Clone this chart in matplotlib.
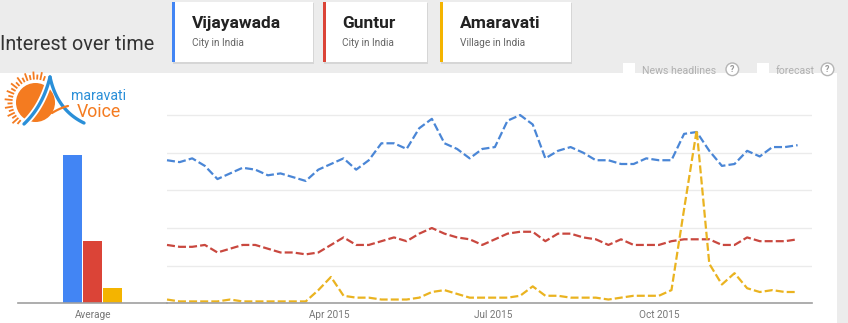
import matplotlib
matplotlib.use('Agg')
import matplotlib.pyplot as plt
import numpy as np
import pandas as pd
from matplotlib.patches import Rectangle, Circle

plt.rcParams['font.family'] = ['Roboto', 'DejaVu Sans']

# ---------------- data ----------------
series_names = ['Vijayawada', 'Guntur', 'Amaravati']
series_types = ['City in India', 'City in India', 'Village in India']
bar_colors = ['#4285f4', '#db4437', '#f4b400']
line_colors = ['#4a86d6', '#c9483f', '#eab320']

dates = pd.date_range('2015-01-01', periods=51, freq='7D')
vijayawada = [76, 75, 77, 73, 66, 69, 72, 71, 68, 69, 67, 65, 71, 74, 77, 71, 76,
              85, 85, 82, 93, 98, 85, 82, 77, 82, 83, 97, 100, 95, 77, 81, 83, 80,
              76, 76, 74, 74, 77, 76, 76, 90, 91, 81, 73, 74, 81, 78, 83, 83, 84]
guntur = [31, 30, 30, 31, 27, 29, 31, 31, 29, 27, 27, 26, 27, 31, 35, 31, 31,
          33, 35, 33, 37, 40, 37, 35, 34, 31, 34, 37, 38, 38, 33, 37, 37, 35,
          34, 31, 34, 31, 31, 31, 33, 34, 34, 34, 31, 31, 35, 33, 33, 33, 34]
amaravati = [2, 1, 1, 1, 1, 2, 1, 1, 1, 1, 1, 1, 7, 14, 4, 3, 3,
             2, 2, 2, 3, 6, 7, 5, 3, 3, 3, 3, 4, 9, 4, 4, 3, 3,
             3, 2, 3, 4, 4, 4, 7, 50, 92, 21, 10, 16, 8, 6, 7, 6, 6]
averages = [79, 33, 8]
tick_dates = ['2015-04-01', '2015-07-01', '2015-10-01']
tick_labels = ['Apr 2015', 'Jul 2015', 'Oct 2015']

# ---------------- figure ----------------
W, H = 848, 323
fig = plt.figure(figsize=(W / 100, H / 100), dpi=100, facecolor='#ececec')

bg = fig.add_axes([0, 0, 1, 1], zorder=0)
bg.set_xlim(0, W)
bg.set_ylim(H, 0)
bg.axis('off')


def fr(x0, y0, x1, y1):
    return [x0 / W, 1 - y1 / H, (x1 - x0) / W, (y1 - y0) / H]


# white chart area
bg.add_patch(Rectangle((0, 72.7), 837, H - 72.7, fc='white', ec='none'))

# title
bg.text(0.5, 50, 'Interest over time', fontsize=14.2, color='#333333', va='baseline')

# cards
cards = [(172, 313), (323, 427), (440, 571)]
for (x0, x1), name, typ, col in zip(cards, series_names, series_types, bar_colors):
    bg.add_patch(Rectangle((x0 + 0.5, 3), x1 - x0, 60.5, fc='#d6d6d6', ec='none'))
    bg.add_patch(Rectangle((x0, 2), x1 - x0, 60, fc='white', ec='none'))
    bg.add_patch(Rectangle((x0, 2), 3, 60, fc=col, ec='none'))
    bg.text(x0 + 19.5, 28.3, name, fontsize=12.5, fontweight='bold',
            color='#222222', va='baseline')
    bg.text(x0 + 19.5, 45.5, typ, fontsize=7.3, color='#666666', va='baseline')

# checkboxes
for bx, label, qx in [(623, 'News headlines', 732.3), (757, 'forecast', 827.5)]:
    bg.add_patch(Rectangle((bx, 63), 12, 12, fc='white', ec='none'))
    bg.text(bx + 18.5, 73.5, label, fontsize=7.6, color='#b0b0b0', va='baseline')
    bg.add_patch(Circle((qx, 69.3), 6.3, fc='white', ec='#b5b5b5', lw=1.0))
    bg.text(qx, 69.8, '?', fontsize=6.5, color='#999999', ha='center', va='center',
            fontweight='bold')

# logo (approximation)
sun_c = np.array([35.5, 102.5])
bg.add_patch(Circle(tuple(sun_c), 19.5, fc='#f47b20', ec='none'))
for a in np.arange(70, 236, 8):
    r0, r1 = 23, 28 + 3 * ((a // 8) % 2)
    rad = np.deg2rad(a)
    d = np.array([np.cos(rad), -np.sin(rad)])
    p0, p1 = sun_c + r0 * d, sun_c + r1 * d
    bg.plot([p0[0], p1[0]], [p0[1], p1[1]], color='#f47b20', lw=1.3,
            solid_capstyle='butt')


def qbez(p0, p1, p2, n=40):
    t = np.linspace(0, 1, n)[:, None]
    return (1 - t) ** 2 * np.array(p0) + 2 * (1 - t) * t * np.array(p1) + t ** 2 * np.array(p2)


left = qbez((50, 77), (43, 106), (24, 124))
right = qbez((50, 77), (57, 110), (84, 123))
bg.plot(left[:, 0], left[:, 1], color='white', lw=5, solid_capstyle='round')
bg.plot(left[:, 0], left[:, 1], color='#2a8fd8', lw=2.4, solid_capstyle='round')
bg.plot(right[:, 0], right[:, 1], color='#2a8fd8', lw=2.4, solid_capstyle='round')
sw = qbez((52, 113), (60, 108), (68, 106))
bg.plot(sw[:, 0], sw[:, 1], color='#f47b20', lw=1.6, solid_capstyle='round')
bg.text(71.5, 100, 'maravati', color='#2a8fd8', fontsize=10.2, va='baseline')
bg.text(77, 116.7, 'Voice', color='#f47b20', fontsize=12.8, va='baseline')

# ---------------- average bars ----------------
YMAX = 108
bax = fig.add_axes(fr(18, 100, 167, 303.3), zorder=2)
bax.patch.set_alpha(0)
bax.bar([-1, 0, 1], averages, width=0.935, color=bar_colors)
bax.set_xlim(-3.735, 3.715)
bax.set_ylim(0, YMAX)
bax.set_yticks([])
bax.set_xticks([0])
bax.set_xticklabels(['Average'])

# ---------------- main line chart ----------------
ax = fig.add_axes(fr(167, 100, 812, 303.3), zorder=2)
ax.patch.set_alpha(0)
for vals, col in zip([vijayawada, guntur, amaravati], line_colors):
    ax.plot(dates, vals, color=col, lw=1.6, ls=(0, (3.6, 1.4)), clip_on=False)
ax.set_xlim(dates[0], dates[0] + pd.Timedelta(days=358))
ax.set_ylim(0, YMAX)
ax.set_yticks([0, 20, 40, 60, 80, 100])
ax.set_yticklabels([])
ax.grid(axis='y', color='#ebebeb', lw=1)
ax.set_axisbelow(True)
ax.set_xticks(pd.to_datetime(tick_dates))
ax.set_xticklabels(tick_labels)

for a in (ax, bax):
    for s in ('top', 'left', 'right'):
        a.spines[s].set_visible(False)
    a.spines['bottom'].set_color('#a0a0a0')
    a.spines['bottom'].set_linewidth(1.2)
    a.tick_params(axis='both', length=0, labelsize=7.2, labelcolor='#777777', pad=5)

fig.savefig('out.png', dpi=100, facecolor=fig.get_facecolor())
